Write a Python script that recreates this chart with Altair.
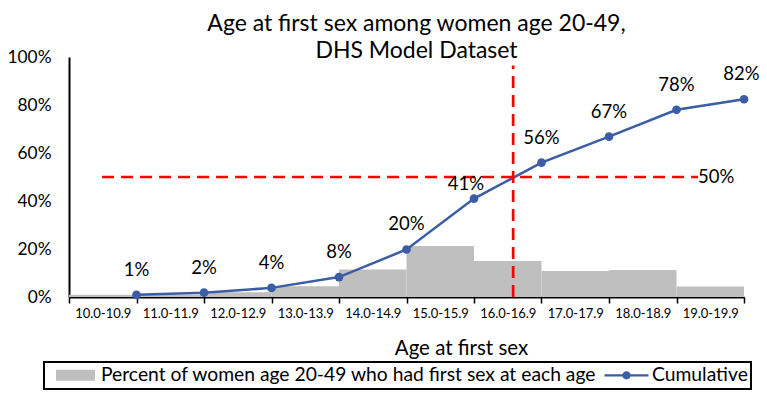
import altair as alt
import pandas as pd

# ---- data ----
categories = ["10.0-10.9", "11.0-11.9", "12.0-12.9", "13.0-13.9", "14.0-14.9",
              "15.0-15.9", "16.0-16.9", "17.0-17.9", "18.0-18.9", "19.0-19.9"]
bin_start = [10, 11, 12, 13, 14, 15, 16, 17, 18, 19]
bin_end = [11, 12, 13, 14, 15, 16, 17, 18, 19, 20]
percent_at_age = [0.9, 0.9, 2.0, 4.5, 11.5, 21.2, 15.0, 10.8, 11.2, 4.4]
cumulative = [0.9, 1.8, 3.8, 8.3, 19.8, 41.0, 56.0, 66.8, 78.0, 82.4]
cum_labels = ["1%", "2%", "4%", "8%", "20%", "41%", "56%", "67%", "78%", "82%"]
median_age = 16.58
half_line_start = 10.49
half_line_end = 19.32
half_value = 50
half_label = ["50%"]
vline_top = 96.5
y_ticks = [0, 20, 40, 60, 80, 100]
x_ticks = [10, 11, 12, 13, 14, 15, 16, 17, 18, 19, 20]

bar_series = "Percent of women age 20-49 who had first sex at each age"
line_series = "Cumulative"
title_lines = ["Age at first sex among women age 20-49,", "DHS Model Dataset"]
x_title = "Age at first sex"

FONT = "Lato"
GRAY = "#BFBFBF"
BLUE = "#3A5DA5"
RED = "#FF0000"

bars_df = pd.DataFrame({"start": bin_start, "end": bin_end, "pct": percent_at_age,
                        "series": bar_series})
cum_df = pd.DataFrame({"end": bin_end, "cum": cumulative, "label": cum_labels,
                       "series": line_series})
hline_df = pd.DataFrame({"x": [half_line_start], "x2": [half_line_end],
                         "y": [half_value], "label": half_label})
vline_df = pd.DataFrame({"x": [median_age], "y": [0], "y2": [vline_top]})

# label expression for x ticks (labels shown centred in each interval)
expr = "''"
for s, c in reversed(list(zip(bin_start, categories))):
    expr = f"datum.value == {s} ? '{c}' : ({expr})"

x_scale = alt.Scale(domain=[10, 20], nice=False, zero=False)
y_scale = alt.Scale(domain=[0, 100], nice=False)

x_axis = alt.Axis(values=x_ticks, labelExpr=expr, labelOffset=33.75, labelFlush=False,
                  labelOverlap=False, labelFont=FONT, labelFontSize=13,
                  labelColor="black", labelPadding=4, tickColor="black", tickSize=6,
                  tickWidth=1.5, domainColor="black", domainWidth=2, grid=False,
                  title=x_title, titleFont=FONT, titleFontSize=20.5,
                  titleFontWeight="normal", titleColor="black", titleX=392,
                  titleY=51, titleBaseline="middle")
y_axis = alt.Axis(values=y_ticks, labelExpr="datum.value + '%'", ticks=False,
                  tickSize=0, labelPadding=18, labelFont=FONT, labelFontSize=17.3,
                  labelColor="black", domainColor="black", domainWidth=2,
                  grid=False, title=None)

# legend symbols: a wide grey swatch and a line-with-dot (all filled paths)
rect_shape = "M-1.95,-0.55H1.95V0.55H-1.95Z"
line_shape = ("M-2.2,-0.12H2.2V0.12H-2.2Z"
              "M-0.42,0A0.42,0.42 0 1,1 0.42,0A0.42,0.42 0 1,1 -0.42,0Z")
legend = alt.Legend(
    title=None, orient="none", direction="horizontal", legendX=-25, legendY=305,
    labelFont=FONT, labelFontSize=19.3, labelColor="black", labelLimit=0,
    labelOffset=15.5, columnPadding=1, symbolSize=400, symbolOffset=18.5, padding=3,
    symbolStrokeWidth=0, symbolOpacity=1, strokeColor="black",
)
fill_scale = alt.Scale(domain=[bar_series, line_series], range=[GRAY, BLUE])
shape_scale = alt.Scale(domain=[bar_series, line_series], range=[rect_shape, line_shape])

bars = alt.Chart(bars_df).mark_rect().encode(
    x=alt.X("start:Q", scale=x_scale, axis=x_axis),
    x2="end:Q",
    y=alt.Y("pct:Q", scale=y_scale, axis=y_axis),
    y2=alt.datum(0),
    fill=alt.Fill("series:N", scale=fill_scale, legend=legend),
)

# invisible (empty) layer that only supplies per-entry legend shapes
legend_layer = alt.Chart(cum_df).transform_filter("false").mark_point(filled=True).encode(
    x=alt.X("end:Q", scale=x_scale, axis=x_axis),
    y=alt.Y("cum:Q", scale=y_scale, axis=y_axis),
    fill=alt.Fill("series:N", scale=fill_scale, legend=legend),
    shape=alt.Shape("series:N", scale=shape_scale, legend=legend),
)

line = alt.Chart(cum_df).mark_line(strokeWidth=2.5, color=BLUE).encode(
    x=alt.X("end:Q", scale=x_scale, axis=x_axis),
    y=alt.Y("cum:Q", scale=y_scale, axis=y_axis),
)
points = alt.Chart(cum_df).mark_circle(size=75, opacity=1, color=BLUE).encode(
    x=alt.X("end:Q", scale=x_scale, axis=x_axis),
    y=alt.Y("cum:Q", scale=y_scale, axis=y_axis),
)

hline = alt.Chart(hline_df).mark_rule(color=RED, strokeWidth=2.7, strokeDash=[12, 7]).encode(
    x=alt.X("x:Q", scale=x_scale, axis=x_axis), x2="x2:Q",
    y=alt.Y("y:Q", scale=y_scale, axis=y_axis),
)
vline = alt.Chart(vline_df).mark_rule(color=RED, strokeWidth=2.7, strokeDash=[12, 7]).encode(
    x=alt.X("x:Q", scale=x_scale, axis=x_axis),
    y=alt.Y("y:Q", scale=y_scale, axis=y_axis), y2="y2:Q",
)
half_text = alt.Chart(hline_df).mark_text(font=FONT, fontSize=18.5, color="black",
                                          align="left", baseline="middle").encode(
    x=alt.X("x2:Q", scale=x_scale, axis=x_axis),
    y=alt.Y("y:Q", scale=y_scale, axis=y_axis),
    text="label:N",
)


def label_layer(filter_expr, dx, dy):
    return alt.Chart(cum_df).transform_filter(filter_expr).mark_text(
        font=FONT, fontSize=18.5, color="black", baseline="middle", dx=dx, dy=dy).encode(
        x=alt.X("end:Q", scale=x_scale, axis=x_axis),
        y=alt.Y("cum:Q", scale=y_scale, axis=y_axis),
        text="label:N",
    )


labels_main = label_layer("datum.label != '41%' && datum.label != '82%'", 0, -25)
labels_41 = label_layer("datum.label == '41%'", -8, -15)
labels_82 = label_layer("datum.label == '82%'", -2.5, -25)

chart = alt.layer(bars, legend_layer, line, points, hline, vline, half_text,
                  labels_main, labels_41, labels_82).properties(
    width=675, height=240,
    padding={"left": 61, "top": 49, "right": 15, "bottom": 93},
    autosize=alt.AutoSizeParams(type="none"),
    title=alt.Title(text=title_lines, font=FONT, fontSize=23, fontWeight="normal",
                    color="black", anchor="middle", dx=10, dy=19, lineHeight=27),
).configure_view(strokeWidth=0).configure_legend(strokeWidth=2)

chart.save("out.html", embed_options={"renderer": "svg", "actions": False})
